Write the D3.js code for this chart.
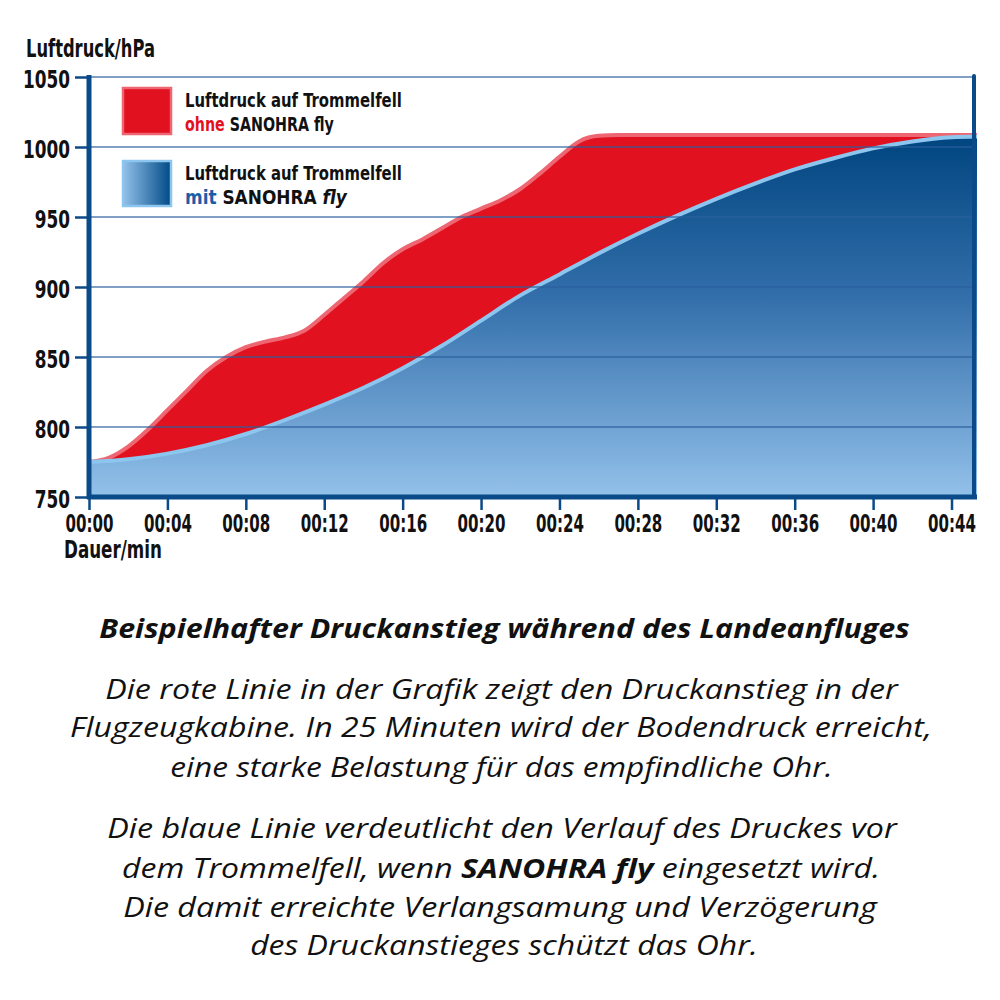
<!DOCTYPE html>
<html><head><meta charset="utf-8">
<script src="https://cdn.jsdelivr.net/npm/d3@7/dist/d3.min.js"></script>
<style>
body{margin:0;background:#fff}
svg{display:block}
.narrow{font-family:"Liberation Sans Narrow","DejaVu Sans Condensed","Roboto Condensed",sans-serif;font-weight:bold;fill:#111}
.cap{font-family:"Open Sans","Noto Sans",sans-serif;font-style:italic;fill:#111}
</style>
</head><body>
<svg id="c" width="1000" height="1000"></svg>
<script>
// ---------- data ----------
const yTicks = [750, 800, 850, 900, 950, 1000, 1050];
const yTickLabels = ["750","800","850","900","950","1000","1050"];
const xTickMinutes = [0, 4, 8, 12, 16, 20, 24, 28, 32, 36, 40, 44];
const xTickLabels = ["00:00","00:04","00:08","00:12","00:16","00:20","00:24","00:28","00:32","00:36","00:40","00:44"];

// Luftdruck ohne SANOHRA fly (red)
const redMinutes = [0,1,2,3,4,5,6,7,8,9,10,11,12,13,14,15,16,17,18,19,20,21,22,23,24,25,26,27,30,35,40,45.3];
const redValues  = [775,778,786,798,812,826,840,850,857,861,864,869,880,892,904,917,927,934,942,950,956,962,970,981,993,1004,1008,1008.5,1008.5,1008.5,1008.5,1008.5];

// Luftdruck mit SANOHRA fly (blue)
const blueMinutes = [0,2,4,6,8,10,12,14,16,18,20,22,24,26,28,30,32,34,36,38,40,42,44,45.3];
const blueValues  = [775,777,781,787,795,805,816,828,842,858,876,894,909,924,938,951,963,974,984,992,999,1004,1007,1007.5];

const yAxisTitle = "Luftdruck/hPa";
const xAxisTitle = "Dauer/min";
const legendLine1 = "Luftdruck auf Trommelfell";
const captionTitle = "Beispielhafter Druckanstieg während des Landeanfluges";
const captionLines = [
  [["Die rote Linie in der Grafik zeigt den Druckanstieg in der", false]],
  [["Flugzeugkabine. In 25 Minuten wird der Bodendruck erreicht,", false]],
  [["eine starke Belastung für das empfindliche Ohr.", false]],
  [["Die blaue Linie verdeutlicht den Verlauf des Druckes vor", false]],
  [["dem Trommelfell, wenn ", false], ["SANOHRA fly", true], [" eingesetzt wird.", false]],
  [["Die damit erreichte Verlangsamung und Verzögerung", false]],
  [["des Druckanstieges schützt das Ohr.", false]]
];

// ---------- layout ----------
const svg = d3.select("#c");
const x = d3.scaleLinear().domain([0, 45.3]).range([89, 977]);
const y = d3.scaleLinear().domain([750, 1050]).range([497, 77]);
const axisBlue = "#0b4a88";

const defs = svg.append("defs");
const g1 = defs.append("linearGradient").attr("id","blueV")
  .attr("gradientUnits","userSpaceOnUse").attr("x1",0).attr("x2",0)
  .attr("y1", y(1008)).attr("y2", y(750));
g1.append("stop").attr("offset","0").attr("stop-color","#00457f");
g1.append("stop").attr("offset","0.45").attr("stop-color","#336fab");
g1.append("stop").attr("offset","1").attr("stop-color","#93c1ea");
const g2 = defs.append("linearGradient").attr("id","blueH")
  .attr("x1",0).attr("x2",1).attr("y1",0).attr("y2",0);
g2.append("stop").attr("offset","0").attr("stop-color","#93c1ea");
g2.append("stop").attr("offset","1").attr("stop-color","#004a86");

const redData = redMinutes.map((m,i)=>({m, v: redValues[i]}));
const blueData = blueMinutes.map((m,i)=>({m, v: blueValues[i]}));

const area = d3.area().x(d=>x(d.m)).y0(y(750)).y1(d=>y(d.v)).curve(d3.curveMonotoneX);
const line = d3.line().x(d=>x(d.m)).y(d=>y(d.v)).curve(d3.curveMonotoneX);

svg.append("path").attr("d", area(redData)).attr("fill","#e2111f");
svg.append("path").attr("d", line(redData)).attr("fill","none").attr("stroke","#ed6671").attr("stroke-width",4);
svg.append("path").attr("d", area(blueData)).attr("fill","url(#blueV)");
svg.append("path").attr("d", line(blueData)).attr("fill","none").attr("stroke","#8cc5ee").attr("stroke-width",4);

// gridlines
svg.append("g").selectAll("line").data(yTicks.filter(t=>t>750)).join("line")
  .attr("x1", x(0)).attr("x2", 974).attr("y1", d=>y(d)).attr("y2", d=>y(d))
  .attr("stroke", "#2a5f9e").attr("stroke-opacity", 0.6).attr("stroke-width", 2.2);

// right frame line
svg.append("line").attr("x1",974).attr("x2",974).attr("y1",y(1050)-1).attr("y2",y(750))
  .attr("stroke", axisBlue).attr("stroke-width",4).attr("stroke-linecap","round");

// fit helper: scale text horizontally to target width
function fit(sel, x0, x1, anchor){
  const node = sel.node();
  const w = node.getComputedTextLength();
  const k = (x1 - x0) / w;
  const yv = +sel.attr("y");
  sel.attr("x", 0).attr("y", 0);
  const tx = anchor === "middle" ? (x0 + x1)/2 : (anchor === "end" ? x1 : x0);
  sel.attr("text-anchor", anchor)
     .attr("transform", `translate(${tx},${yv}) scale(${k},1)`);
  return k;
}

// axes
const yAxis = d3.axisLeft(y).tickValues(yTicks).tickFormat((d,i)=>yTickLabels[i]).tickSize(14).tickSizeOuter(0).tickPadding(5);
const gy = svg.append("g").attr("transform", `translate(${x(0)},0)`).call(yAxis);
const xAxis = d3.axisBottom(x).tickValues(xTickMinutes).tickFormat((d,i)=>xTickLabels[i]).tickSize(13).tickSizeOuter(0).tickPadding(7);
const gx = svg.append("g").attr("transform", `translate(0,${y(750)})`).call(xAxis);
[gy, gx].forEach(g=>{
  g.select(".domain").attr("stroke", axisBlue).attr("stroke-width", 5);
  g.selectAll(".tick line").attr("stroke", axisBlue).attr("stroke-width", 2.5);
  g.selectAll(".tick text").attr("class","narrow").attr("font-size", 24).attr("fill","#111");
});
gy.select(".domain").attr("d", `M0,${y(1050)-2}V${y(750)+2}`);
gx.select(".domain").attr("d", `M${x(0)-2},0H${977}`);

// condense tick labels to match the reference widths
const refW = gx.select(".tick text").node().getComputedTextLength();
const kx = 48 / refW;
gx.selectAll(".tick text").attr("y", null).attr("dy", null)
  .attr("transform", `translate(0,35) scale(${kx},1)`);
const refWy = gy.selectAll(".tick text").nodes().pop().getComputedTextLength();
const ky = 47 / refWy;
gy.selectAll(".tick text").attr("x", null).attr("dy", null)
  .attr("transform", `translate(-19,10) scale(${ky},1)`);

const ty = svg.append("text").attr("class","narrow").attr("y",57).attr("font-size",24).text(yAxisTitle);
fit(ty, 26, 155, "start");
const tx = svg.append("text").attr("class","narrow").attr("y",558).attr("font-size",24).text(xAxisTitle);
fit(tx, 64, 162, "start");

// legend
svg.append("rect").attr("x",123).attr("y",88).attr("width",48).attr("height",46)
  .attr("fill","#e2111f").attr("stroke","#ed6671").attr("stroke-width",2.5);
svg.append("rect").attr("x",123).attr("y",161).attr("width",48).attr("height",45)
  .attr("fill","url(#blueH)").attr("stroke","#8cc5ee").attr("stroke-width",2.5);

const l1 = svg.append("text").attr("class","narrow").attr("y",107).attr("font-size",20).text(legendLine1);
fit(l1, 185, 402, "start");
const l2 = svg.append("text").attr("class","narrow").attr("y",131).attr("font-size",20);
l2.append("tspan").attr("fill","#e3101f").text("ohne");
l2.append("tspan").text(" SANOHRA fly");
fit(l2, 185, 334, "start");
const l3 = svg.append("text").attr("class","narrow").attr("y",180).attr("font-size",20).text(legendLine1);
fit(l3, 185, 402, "start");
const l4 = svg.append("text").attr("class","narrow").attr("y",204).attr("font-size",20);
l4.append("tspan").attr("fill","#1b5ea7").text("mit");
l4.append("tspan").text(" SANOHRA ");
l4.append("tspan").attr("font-style","italic").text("fly");
fit(l4, 185, 347, "start");

// caption
const t0 = svg.append("text").attr("class","cap").attr("y",638).attr("font-size",27).attr("font-weight","bold").text(captionTitle);
fit(t0, 99, 910, "middle");
const lineY = [699, 737, 777, 838, 878, 917, 955];
const lineX = [[105,898],[70,932],[170,833],[107,897],[122,880],[123,877],[250,758]];
captionLines.forEach((parts, i)=>{
  const t = svg.append("text").attr("class","cap").attr("y", lineY[i]).attr("font-size",27);
  parts.forEach(([s,b])=>{
    const ts = t.append("tspan").text(s);
    if (b) ts.attr("font-weight","bold");
  });
  fit(t, lineX[i][0], lineX[i][1], "middle");
});
</script>
</body></html>
